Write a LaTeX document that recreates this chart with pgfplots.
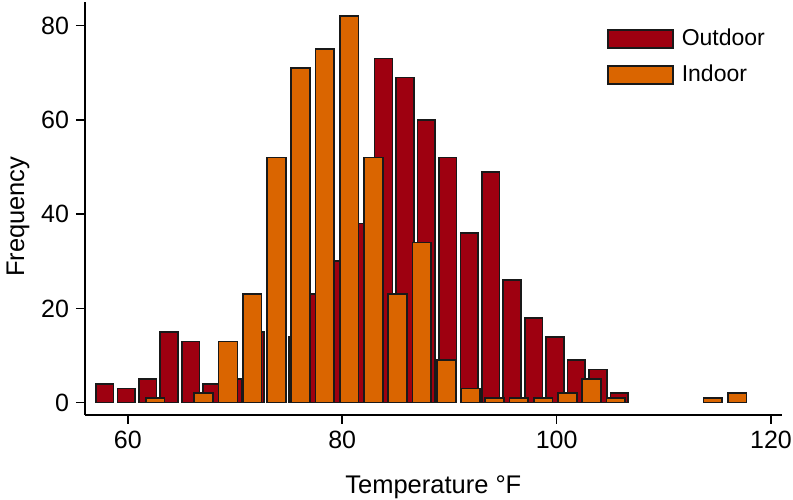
\documentclass[border=0pt]{standalone}
\usepackage{pgfplots}
\pgfplotsset{compat=1.18}
\usepackage{pgfplotstable}
\usepackage{fontspec}
\setmainfont{Liberation Sans}

\definecolor{outdoor}{HTML}{9E0010}
\definecolor{indoor}{HTML}{DA6500}

% outdoor bins (2 F wide), bar centres
\pgfplotstableread{
x y
57.85 4
59.85 3
61.85 5
63.85 15
65.85 13
67.85 4
69.85 5
71.85 15
73.85 11
75.85 14
77.85 23
79.85 30
81.85 38
83.85 73
85.85 69
87.85 60
89.85 52
91.85 36
93.85 49
95.85 26
97.85 18
99.85 14
101.85 9
103.85 7
105.85 2
}\outdoortab

% indoor bins (about 2.26 F wide), empty bins left out
\pgfplotstableread{
x y
62.55 1
67.07 2
69.34 13
71.60 23
73.86 52
76.12 71
78.38 75
80.65 82
82.91 52
85.17 23
87.43 34
89.69 9
91.96 3
94.22 1
96.48 1
98.74 1
101.00 2
103.27 5
105.53 1
114.58 1
116.84 2
}\indoortab

\begin{document}
\begin{tikzpicture}
\begin{axis}[
  name=ax,
  width=348.4pt, height=206.5pt, scale only axis,
  xmin=56, xmax=121, ymin=-2.6, ymax=85,
  axis x line*=bottom, axis y line*=left,
  axis line style={line width=0.75pt, black},
  xtick={60,80,100,120}, ytick={0,20,40,60,80},
  minor tick num=0,
  tick align=outside, major tick length=4.5pt,
  tick style={line width=0.75pt, black},
  ticklabel style={font=\fontsize{12.5}{14}\selectfont},
  /pgf/number format/assume math mode=true,
  xlabel={Temperature °F},
  ylabel={Frequency},
  label style={font=\fontsize{12.75}{15}\selectfont},
  xlabel style={at={(axis description cs:0.5,0)}, anchor=base, yshift=-39.5pt},
  ylabel style={at={(axis description cs:-0.0875,0.48)}, anchor=base, rotate=0},
  legend style={at={(axis description cs:0.749,0.935)}, anchor=north west,
    draw=none, fill=none, inner sep=0pt, row sep=8pt,
    font=\fontsize{11.5}{13}\selectfont,
    nodes={inner sep=0pt},
    /tikz/every odd column/.append style={column sep=4pt}},
  legend cell align=left,
  legend image code/.code={\draw[#1] (0pt,-4.5pt) rectangle (32.5pt,4.5pt);},
]
\addplot[ybar, bar shift=0pt, bar width=1.65, fill=outdoor, draw=black!90, line width=0.8pt]
  table {\outdoortab};
\addlegendentry{Outdoor}
\addplot[ybar, bar shift=0pt, bar width=1.75, fill=indoor, draw=black!90, line width=0.8pt]
  table {\indoortab};
\addlegendentry{Indoor}
\end{axis}
\pgfresetboundingbox
\path[use as bounding box] ([shift={(-42.5pt,-42.5pt)}]ax.south west)
  rectangle ([shift={(5.65pt,1pt)}]ax.north east);
\end{tikzpicture}
\end{document}
